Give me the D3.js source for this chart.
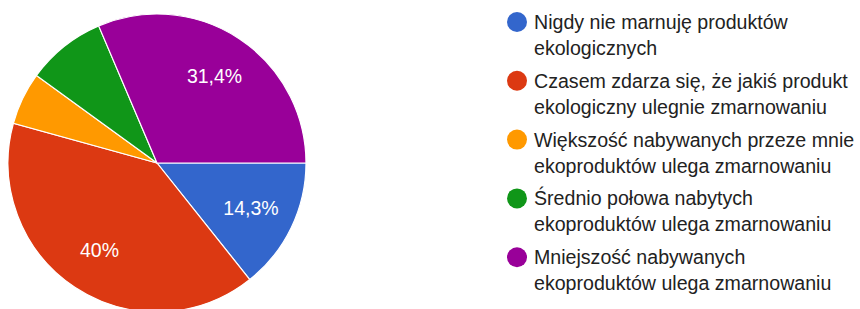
<!DOCTYPE html>
<html>
<head>
<meta charset="utf-8">
<script src="https://cdn.jsdelivr.net/npm/d3@7"></script>
<style>
  body { margin: 0; background: #fff; }
  svg { display: block; font-family: Arial, "Liberation Sans", sans-serif; }
</style>
</head>
<body>
<div id="chart"></div>
<script>
// answers, in the order the chart draws them
const categories = [
  ["Nigdy nie marnuję produktów", "ekologicznych"],
  ["Czasem zdarza się, że jakiś produkt", "ekologiczny ulegnie zmarnowaniu"],
  ["Większość nabywanych przeze mnie", "ekoproduktów ulega zmarnowaniu"],
  ["Średnio połowa nabytych", "ekoproduktów ulega zmarnowaniu"],
  ["Mniejszość nabywanych", "ekoproduktów ulega zmarnowaniu"]
];
const values = [14.3, 40, 5.7, 8.6, 31.4];
const labels = ["14,3%", "40%", "", "", "31,4%"];
const colors = ["#3366cc", "#dc3912", "#ff9900", "#109618", "#990099"];

const width = 860, height = 309;
const cx = 157, cy = 163, radius = 149;

const svg = d3.select("#chart")
  .append("svg")
    .attr("width", width)
    .attr("height", height);

const g = svg.append("g")
  .attr("transform", `translate(${cx},${cy})`);

// google pie starts at 3 o'clock here, clockwise
const pie = d3.pie()
  .sort(null)
  .startAngle(Math.PI / 2)
  .endAngle(Math.PI / 2 + 2 * Math.PI)
  .value(d => d);

const arcs = pie(values);
const arc = d3.arc().innerRadius(0).outerRadius(radius);
const labelArc = d3.arc().innerRadius(radius * 0.7).outerRadius(radius * 0.7);

g.selectAll("path.slice")
  .data(arcs)
  .join("path")
    .attr("class", "slice")
    .attr("d", arc)
    .attr("fill", (d, i) => colors[i])
    .attr("stroke", "#fff")
    .attr("stroke-width", 1.2);

g.selectAll("text.pct")
  .data(arcs)
  .join("text")
    .attr("class", "pct")
    .attr("transform", d => `translate(${labelArc.centroid(d)})`)
    .attr("text-anchor", "middle")
    .attr("dy", "0.36em")
    .attr("fill", "#fff")
    .style("font-size", "19.5px")
    .text((d, i) => labels[i]);

// legend
const legend = svg.append("g")
  .attr("transform", "translate(517,22)");

const item = legend.selectAll("g.item")
  .data(categories)
  .join("g")
    .attr("class", "item")
    .attr("transform", (d, i) => `translate(0,${i * 58.8})`);

item.append("circle")
  .attr("r", 10)
  .attr("fill", (d, i) => colors[i]);

item.append("text")
  .attr("x", 17)
  .attr("y", 7)
  .attr("fill", "#222")
  .style("font-size", "19.6px")
  .selectAll("tspan")
  .data(d => d)
  .join("tspan")
    .attr("x", 17)
    .attr("dy", (d, i) => i === 0 ? 0 : 26)
    .text(d => d);
</script>
</body>
</html>
